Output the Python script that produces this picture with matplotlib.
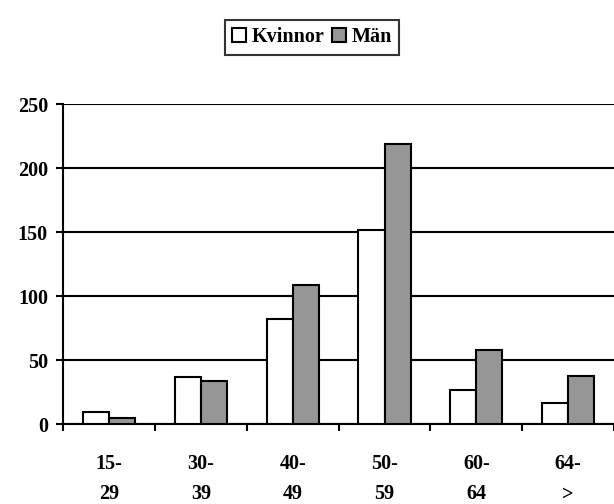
import numpy as np
import matplotlib
matplotlib.use('Agg')
import matplotlib.pyplot as plt

# Data
categories = ['15-\n29', '30-\n39', '40-\n49', '50-\n59', '60-\n64', '64-\n>']
kvinnor = [10, 37, 82, 152, 27, 17]
man = [5, 34, 109, 219, 58, 38]
series_names = ['Kvinnor', 'Män']

plt.rcParams['font.family'] = ['Liberation Serif', 'DejaVu Serif']
plt.rcParams['font.weight'] = 'bold'

fig = plt.figure(figsize=(6.14, 5.04), dpi=100)
ax = fig.add_axes([0.103, 0.158, 0.897, 0.635])

x = np.arange(len(categories))
w = 0.285
ax.bar(x - w / 2, kvinnor, w, color='white', edgecolor='black', linewidth=1.5,
       label=series_names[0], zorder=3)
ax.bar(x + w / 2, man, w, color='#969696', edgecolor='black', linewidth=1.5,
       label=series_names[1], zorder=3)

ax.set_xlim(-0.5, len(categories) - 0.5)
ax.set_ylim(0, 250)
ax.set_yticks([0, 50, 100, 150, 200, 250])
ax.yaxis.grid(True, color='black', linewidth=1.5, zorder=0)
ax.set_axisbelow(True)

ax.set_xticks(x)
ax.set_xticklabels(categories, fontsize=14.5, fontweight='bold', linespacing=1.72)
ax.tick_params(axis='x', length=0, pad=21)
ax.set_xticks(np.arange(len(categories) + 1) - 0.5, minor=True)
ax.tick_params(axis='x', which='minor', length=5, width=1.5, direction='out')
ax.tick_params(axis='y', length=5, width=1.5, labelsize=14.5, pad=6)
for lab in ax.get_yticklabels():
    lab.set_fontweight('bold')

for s in ['top', 'right']:
    ax.spines[s].set_visible(False)
ax.spines['left'].set_linewidth(1.5)
ax.spines['bottom'].set_linewidth(1.5)

leg = fig.legend(loc='center', bbox_to_anchor=(0.508, 0.926), ncol=2, frameon=True,
                 fancybox=False, edgecolor='black', fontsize=14.5,
                 handlelength=0.7, handleheight=0.7, handletextpad=0.25,
                 columnspacing=0.4, borderpad=0.38, borderaxespad=0)
leg.get_frame().set_linewidth(1.5)
for t in leg.get_texts():
    t.set_fontweight('bold')

fig.savefig('out.png', dpi=100)
